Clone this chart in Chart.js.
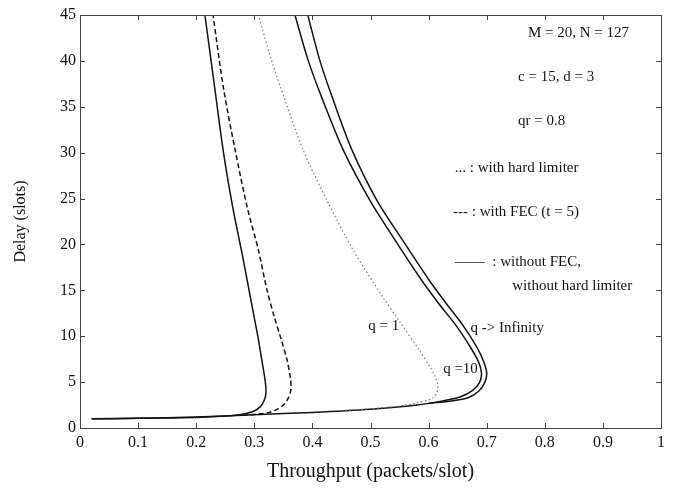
<!DOCTYPE html>
<html>
<head>
<meta charset="utf-8">
<script src="https://cdn.jsdelivr.net/npm/chart.js@4/dist/chart.umd.min.js"></script>
<style>
  html, body { margin: 0; padding: 0; background: #fff; }
  #wrap { width: 673px; height: 489px; }
</style>
</head>
<body>
<div id="wrap"><canvas id="delayChart" width="673" height="489"></canvas></div>
<script>
/* ── 축 눈금 ── */
const xTicks = [0, 0.1, 0.2, 0.3, 0.4, 0.5, 0.6, 0.7, 0.8, 0.9, 1];
const yTicks = [0, 5, 10, 15, 20, 25, 30, 35, 40, 45];

/* ── 곡선 데이터 (throughput, delay) ── */
// 왼쪽 실선
const leftSolidX = [0.02, 0.10, 0.20, 0.25, 0.28, 0.298, 0.310, 0.317, 0.320, 0.319, 0.314, 0.306, 0.294, 0.279, 0.263, 0.247, 0.232, 0.215];
const leftSolidY = [1.0, 1.05, 1.15, 1.3, 1.5, 1.8, 2.3, 3.0, 3.8, 5.0, 7.0, 10.0, 14.0, 19.0, 24.0, 30.0, 37.0, 45];
// FEC 점선(---)
const fecX = [0.28, 0.305, 0.325, 0.338, 0.350, 0.358, 0.363, 0.362, 0.356, 0.347, 0.334, 0.322, 0.307, 0.288, 0.267, 0.247, 0.229];
const fecY = [1.4, 1.5, 1.7, 2.0, 2.5, 3.2, 4.2, 5.5, 7.5, 9.5, 12.2, 15.0, 19.4, 24.0, 30.3, 37.0, 45];
// 하드 리미터 점선(...)
const hardX = [0.45, 0.50, 0.55, 0.58, 0.605, 0.614, 0.616, 0.612, 0.604, 0.585, 0.550, 0.521, 0.470, 0.425, 0.384, 0.353, 0.330, 0.307];
const hardY = [1.9, 2.1, 2.4, 2.75, 3.2, 3.8, 4.6, 5.5, 6.5, 8.4, 11.6, 14.3, 19.4, 24.8, 30.3, 35.7, 40.0, 45];
// q = 10 실선
const q10X = [0.02, 0.10, 0.20, 0.30, 0.40, 0.50, 0.58, 0.62, 0.655, 0.676, 0.688, 0.691, 0.686, 0.672, 0.648, 0.617, 0.588, 0.545, 0.499, 0.453, 0.418, 0.393, 0.370];
const q10Y = [1.0, 1.05, 1.2, 1.45, 1.7, 2.05, 2.5, 2.9, 3.4, 4.1, 5.0, 6.0, 7.2, 8.8, 11.1, 13.6, 16.1, 20.2, 24.8, 30.3, 35.7, 40.0, 45];
// q -> Infinity 실선
const qInfX = [0.60, 0.64, 0.668, 0.686, 0.697, 0.700, 0.695, 0.683, 0.660, 0.630, 0.601, 0.558, 0.511, 0.468, 0.436, 0.413, 0.392];
const qInfY = [2.7, 2.95, 3.3, 4.0, 5.0, 6.0, 7.2, 8.8, 11.1, 13.6, 16.1, 20.2, 24.8, 30.3, 35.7, 40.0, 45];

/* ── 주석 텍스트 ── */
const notes = [
  { text: 'M = 20, N = 127',          x: 0.771, y: 43.0 },
  { text: 'c = 15, d = 3',            x: 0.754, y: 38.2 },
  { text: 'qr = 0.8',                 x: 0.754, y: 33.4 },
  { text: '... : with hard limiter',  x: 0.645, y: 28.3 },
  { text: '--- : with FEC (t = 5)',   x: 0.642, y: 23.5 },
  { text: '——  : without FEC,',       x: 0.645, y: 18.1 },
  { text: 'without hard limiter',     x: 0.744, y: 15.5 },
  { text: 'q = 1',                    x: 0.496, y: 11.1 },
  { text: 'q -> Infinity',            x: 0.672, y: 10.9 },
  { text: 'q =10',                    x: 0.625, y: 6.4 }
];

function pairs(xs, ys) {
  return xs.map(function(x, i) { return { x: x, y: ys[i] }; });
}

const SERIF = '"Liberation Serif", "Times New Roman", serif';

/* ── 박스 + 안쪽 눈금 + 주석 ── */
const framePlugin = {
  id: 'frame',
  afterDraw(chart) {
    const ctx = chart.ctx;
    const a = chart.chartArea;
    const sx = chart.scales.x, sy = chart.scales.y;
    ctx.save();
    ctx.strokeStyle = '#444';
    ctx.lineWidth = 1;
    ctx.strokeRect(a.left + 0.5, a.top + 0.5, a.right - a.left, a.bottom - a.top);
    ctx.beginPath();
    xTicks.forEach(function(v) {
      const px = Math.round(sx.getPixelForValue(v)) + 0.5;
      ctx.moveTo(px, a.bottom); ctx.lineTo(px, a.bottom - 5);
      ctx.moveTo(px, a.top);    ctx.lineTo(px, a.top + 5);
    });
    yTicks.forEach(function(v) {
      const py = Math.round(sy.getPixelForValue(v)) + 0.5;
      ctx.moveTo(a.left, py);  ctx.lineTo(a.left + 5, py);
      ctx.moveTo(a.right, py); ctx.lineTo(a.right - 5, py);
    });
    ctx.stroke();

    ctx.fillStyle = '#111';
    ctx.font = '15px ' + SERIF;
    ctx.textAlign = 'left';
    ctx.textBaseline = 'middle';
    notes.forEach(function(n) {
      ctx.fillText(n.text, sx.getPixelForValue(n.x), sy.getPixelForValue(n.y));
    });
    ctx.restore();
  }
};

const solidStyle  = { borderColor: '#111', borderWidth: 1.5 };
const dashStyle   = { borderColor: '#111', borderWidth: 1.5, borderDash: [5, 3] };
const dottedStyle = { borderColor: '#777', borderWidth: 1.2, borderDash: [1.5, 2.5] };

function series(label, xs, ys, style) {
  return Object.assign({
    label: label,
    data: pairs(xs, ys),
    showLine: true,
    pointRadius: 0,
    tension: 0.3,
    fill: false
  }, style);
}

new Chart(document.getElementById('delayChart'), {
  type: 'scatter',
  data: {
    datasets: [
      series('without FEC', leftSolidX, leftSolidY, solidStyle),
      series('with FEC (t = 5)', fecX, fecY, dashStyle),
      series('with hard limiter', hardX, hardY, dottedStyle),
      series('q = 10', q10X, q10Y, solidStyle),
      series('q -> Infinity', qInfX, qInfY, solidStyle)
    ]
  },
  options: {
    responsive: false,
    animation: false,
    layout: { padding: { top: 15, right: 12, left: 0, bottom: 0 } },
    plugins: { legend: { display: false }, tooltip: { enabled: false } },
    scales: {
      x: {
        type: 'linear', min: 0, max: 1,
        afterBuildTicks: function(s) { s.ticks = xTicks.map(function(v) { return { value: v }; }); },
        afterFit: function(s) { s.height = 61; },
        grid: { display: false, drawTicks: false },
        border: { display: false },
        ticks: { color: '#111', padding: 5, maxRotation: 0, autoSkip: false,
                 font: { family: SERIF, size: 16 },
                 callback: function(v) { return String(v); } },
        title: { display: true, text: 'Throughput (packets/slot)', color: '#111',
                 font: { family: SERIF, size: 20 }, padding: { top: 0, bottom: 5 } }
      },
      y: {
        type: 'linear', min: 0, max: 45,
        afterBuildTicks: function(s) { s.ticks = yTicks.map(function(v) { return { value: v }; }); },
        afterFit: function(s) { s.width = 80; },
        grid: { display: false, drawTicks: false },
        border: { display: false },
        ticks: { color: '#111', padding: 4, autoSkip: false,
                 font: { family: SERIF, size: 16 },
                 callback: function(v) { return String(v); } },
        title: { display: true, text: 'Delay (slots)', color: '#111',
                 font: { family: SERIF, size: 16 }, padding: { top: 11, bottom: 0 } }
      }
    }
  },
  plugins: [framePlugin]
});
</script>
</body>
</html>
